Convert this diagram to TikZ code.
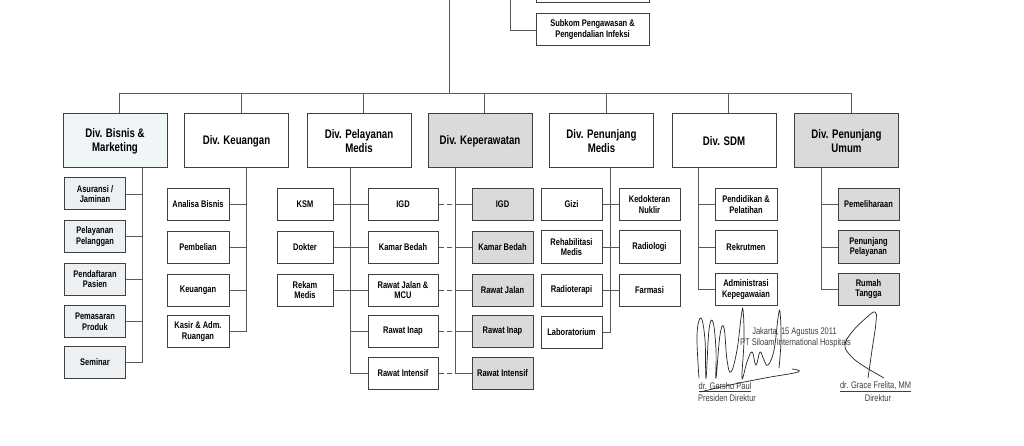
\documentclass[tikz,border=0pt]{standalone}
\usepackage{fontspec}
\setmainfont[FakeStretch=0.78]{Liberation Sans}
\usepackage{tikz}
\definecolor{boxgray}{RGB}{218,218,218}
\definecolor{boxblue}{RGB}{240,245,248}
\definecolor{subblue}{RGB}{237,240,243}
\tikzset{divbox/.style={draw=black!75, line width=1pt, minimum width=104pt, minimum height=54pt, align=center, inner sep=1pt, font=\fontsize{12.4}{14}\selectfont\bfseries}}
\tikzset{subbox/.style={draw=black!75, line width=1pt, minimum width=61pt, minimum height=32pt, align=center, inner sep=1pt, font=\fontsize{9.6}{10.5}\selectfont\bfseries}}
\tikzset{wire/.style={draw=black!65, line width=0.7pt}}
\tikzset{sigtext/.style={inner sep=0pt, text=black!75, font=\fontsize{9.6}{10}\selectfont}}
\tikzset{sig/.style={draw=black!85, line width=0.7pt}}

\begin{document}
\begin{tikzpicture}[x=1pt,y=-1pt]
                    \useasboundingbox (0,0) rectangle (1024,446);
                    \clip (0,0) rectangle (1024,446);
                    \fill[white] (0,0) rectangle (1024,446);

                    \node[subbox, minimum width=113pt, minimum height=34pt] (komite) at (592.5,-14) {};
                    \node[subbox, minimum width=113pt, font=\fontsize{9.6}{11}\selectfont\bfseries] (subkom) at (592.5,30) {Subkom Pengawasan \&\\Pengendalian Infeksi};
                    \coordinate (lnk) at (510,-5);
                    \draw[wire] (lnk) |- (subkom.west);

                    \node[divbox, fill=boxblue] (dbm) at (115,141) {Div. Bisnis \&\\Marketing};
                    \node[divbox] (dku) at (236.5,141) {Div. Keuangan};
                    \node[divbox] (dpm) at (359,141) {Div. Pelayanan\\Medis};
                    \node[divbox, fill=boxgray] (dkp) at (480,141) {Div. Keperawatan};
                    \node[divbox] (dpn) at (601.5,141) {Div. Penunjang\\Medis};
                    \node[divbox] (dsdm) at (724,141) {Div. SDM};
                    \node[divbox, fill=boxgray] (dpu) at (846.5,141) {Div. Penunjang\\Umum};

                    \coordinate (top) at (449,-5);
                    \coordinate (hub) at (449,93);
                    \draw[wire] (top) -- (hub);
                    \foreach \d/\s in {dbm/4, dku/4.5, dpm/4, dkp/4, dpn/4.5, dsdm/4, dpu/4.5}
                        \draw[wire] (hub) -| ([xshift=\s pt]\d.north);

                    \foreach \txt/\y [count=\n] in {{Asuransi /\\Jaminan}/194, {Pelayanan\\Pelanggan}/236.5, {Pendaftaran\\Pasien}/279, {Pemasaran\\Produk}/321.5, Seminar/362.5}
                        \node[subbox, fill=subblue] (bm\n) at (95,\y) {\txt};
                    \coordinate (sbm) at ([xshift=27pt]dbm.south);
                    \draw[wire] (sbm) |- (bm5.east);
                    \foreach \n in {1,...,4}
                        \draw[wire] (bm\n.east) -- (bm\n.east -| sbm);

                    \foreach \txt/\y [count=\n] in {Analisa Bisnis/204.5, Pembelian/247.5, Keuangan/290, {Kasir \& Adm.\\Ruangan}/331.5}
                        \node[subbox, minimum width=62pt] (ku\n) at (198,\y) {\txt};
                    \coordinate (sku) at ([xshift=9.5pt]dku.south);
                    \draw[wire] (sku) |- (ku4.east);
                    \foreach \n in {1,...,3}
                        \draw[wire] (ku\n.east) -- (ku\n.east -| sku);

                    \foreach \txt/\y [count=\n] in {KSM/204.5, Dokter/247.5, {Rekam\\Medis}/290}
                        \node[subbox, minimum width=56pt] (pl\n) at (305,\y) {\txt};
                    \foreach \txt/\y [count=\n] in {IGD/204.5, Kamar Bedah/247.5, {Rawat Jalan \&\\MCU}/290, Rawat Inap/331, Rawat Intensif/373.5}
                        \node[subbox, minimum width=70pt] (pr\n) at (403,\y) {\txt};
                    \coordinate (spm) at ([xshift=-8.5pt]dpm.south);
                    \draw[wire] (spm) |- (pr5.west);
                    \foreach \n in {1,...,4}
                        \draw[wire] (pr\n.west) -- (pr\n.west -| spm);
                    \foreach \n in {1,...,3}
                        \draw[wire] (pl\n.east) -- (pl\n.east -| spm);

                    \foreach \txt/\y [count=\n] in {IGD/204.5, Kamar Bedah/247.5, Rawat Jalan/290, Rawat Inap/331, Rawat Intensif/373.5}
                        \node[subbox, fill=boxgray] (kp\n) at (502.5,\y) {\txt};
                    \coordinate (skp) at ([xshift=-25pt]dkp.south);
                    \draw[wire] (skp) |- (kp5.west);
                    \foreach \n in {1,...,4}
                        \draw[wire] (kp\n.west) -- (kp\n.west -| skp);
                    \foreach \n in {1,...,5}
                        \draw[wire, dash pattern=on 5pt off 3pt] (pr\n.east) -- (pr\n.east -| skp);

                    \foreach \txt/\y [count=\n] in {Gizi/204.5, {Rehabilitasi\\Medis}/247, Radioterapi/290, Laboratorium/332}
                        \node[subbox] (pnl\n) at (571.5,\y) {\txt};
                    \foreach \txt/\y [count=\n] in {{Kedokteran\\Nuklir}/204.5, Radiologi/247, Farmasi/290}
                        \node[subbox] (pnr\n) at (649.5,\y) {\txt};
                    \coordinate (spn) at ([xshift=9pt]dpn.south);
                    \draw[wire] (spn) |- (pnl4.east);
                    \foreach \n in {1,...,3}{
                        \draw[wire] (pnl\n.east) -- (pnl\n.east -| spn);
                        \draw[wire] (pnr\n.west) -- (pnr\n.west -| spn);
                        }

                    \foreach \txt/\y [count=\n] in {{Pendidikan \&\\Pelatihan}/204.5, Rekrutmen/247, {Administrasi\\Kepegawaian}/289.5}
                        \node[subbox, minimum width=62pt] (sdm\n) at (746,\y) {\txt};
                    \coordinate (ssdm) at ([xshift=-26pt]dsdm.south);
                    \draw[wire] (ssdm) |- (sdm3.west);
                    \foreach \n in {1,2}
                        \draw[wire] (sdm\n.west) -- (sdm\n.west -| ssdm);

                    \foreach \txt/\y [count=\n] in {Pemeliharaan/204.5, {Penunjang\\Pelayanan}/247, {Rumah\\Tangga}/289}
                        \node[subbox, fill=boxgray] (pu\n) at (868.5,\y) {\txt};
                    \coordinate (spu) at ([xshift=-25.5pt]dpu.south);
                    \draw[wire] (spu) |- (pu3.west);
                    \foreach \n in {1,2}
                        \draw[wire] (pu\n.west) -- (pu\n.west -| spu);

                    \node[sigtext] (tgl) at (794.5,332) {Jakarta, 15 Agustus 2011};
                    \node[sigtext] (pt) at (795.5,343) {PT Siloam International Hospitals};
                    \node[sigtext] (presdir) at (725,387) {\underline{dr. Gershu Paul}};
                    \node[sigtext] (presdirjab) at (727,398) {Presiden Direktur};
                    \node[sigtext] (dir) at (875.5,387) {\underline{dr. Grace Frelita, MM}};
                    \node[sigtext] (dirjab) at (878,398) {Direktur};

                    \draw[sig] plot[smooth, tension=0.7] coordinates {(699,378) (697,335) (701,318) (705,340) (706,378) (709,330) (713,322) (716,350) (716,378) (720,335) (724,328) (727,360) (731,372) (737,350) (741,318) (743,310) (744,340) (742,378) (747,362) (752,352) (756,365) (760,352) (764,360) (768,365) (774,350) (778,318) (780,312) (781,340) (779,368)};
                    \draw[sig] plot[smooth, tension=0.7] coordinates {(700,392) (730,385) (765,378) (798,372) (792,369)};
                    \draw[sig] plot[smooth, tension=0.7] coordinates {(868,378) (872,350) (876,322) (875,312) (866,318) (852,332) (845,345) (850,355) (862,365) (884,378)};
                \end{tikzpicture}
\end{document}
